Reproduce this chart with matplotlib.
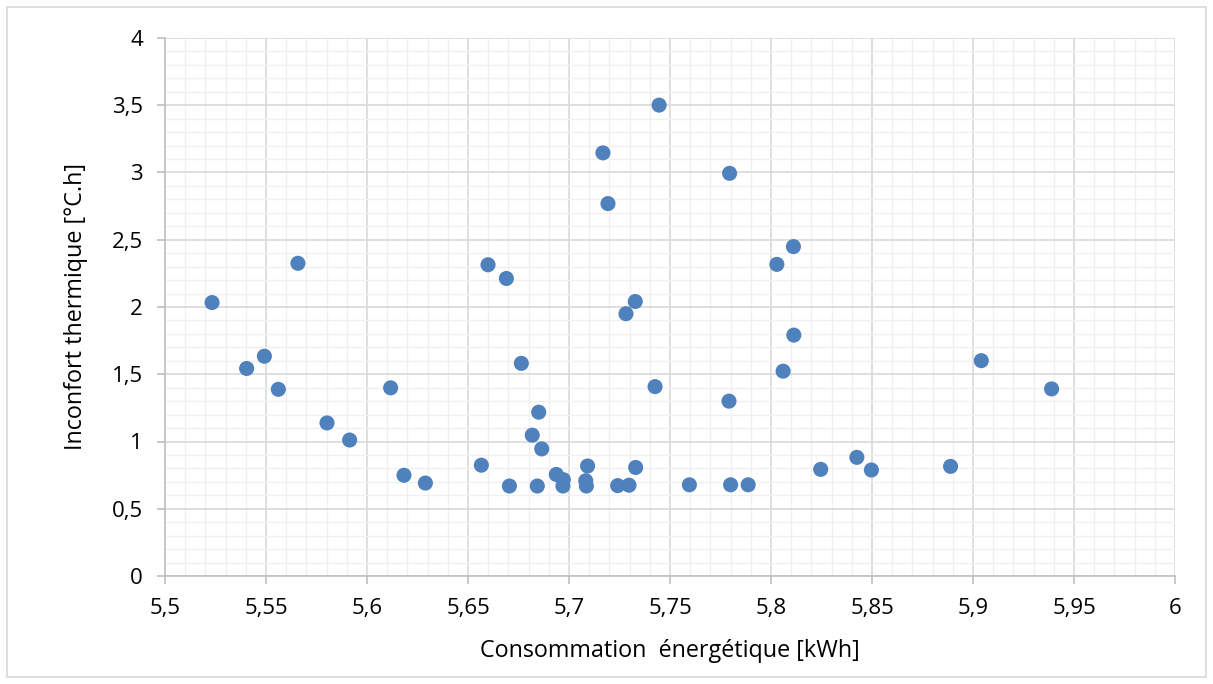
import matplotlib
matplotlib.use("Agg")
import matplotlib.pyplot as plt
from matplotlib.ticker import MultipleLocator, FuncFormatter
from matplotlib.patches import Rectangle

# Data
consommation = [
    5.5233, 5.5404, 5.5492, 5.5561, 5.5658, 5.5802, 5.5914, 5.6117, 5.6183, 5.6289,
    5.6566, 5.6599, 5.6690, 5.6705, 5.6764, 5.6850, 5.6818, 5.6865, 5.6843, 5.6937,
    5.6972, 5.6970, 5.7092, 5.7083, 5.7086, 5.7168, 5.7193, 5.7241, 5.7282, 5.7328,
    5.7297, 5.7330, 5.7426, 5.7446,
    5.7795, 5.8029, 5.8111, 5.8113, 5.8060, 5.7792, 5.7596, 5.7800, 5.7887, 5.8246,
    5.8425, 5.8497, 5.8889, 5.9041, 5.9389,
]
inconfort = [
    2.033, 1.543, 1.634, 1.388, 2.325, 1.138, 1.011, 1.399, 0.749, 0.691,
    0.824, 2.314, 2.212, 0.669, 1.581, 1.218, 1.047, 0.945, 0.669, 0.755,
    0.716, 0.669, 0.818, 0.708, 0.669, 3.146, 2.769, 0.672, 1.950, 2.041,
    0.675, 0.807, 1.408, 3.501,
    2.994, 2.317, 2.449, 1.791, 1.523, 1.300, 0.678, 0.678, 0.678, 0.793,
    0.882, 0.788, 0.815, 1.601, 1.391,
]

x_label = "Consommation  énergétique [kWh]"
y_label = "Inconfort thermique [°C.h]"

plt.rcParams['font.family'] = ['Open Sans', 'DejaVu Sans']

fig = plt.figure(figsize=(12.13, 6.84), dpi=100)
ax = fig.add_axes([165/1213, 1 - 576/684, (1175 - 165)/1213, (576 - 38)/684])

ax.scatter(consommation, inconfort, s=118, color='#4F81BD', edgecolors='none', zorder=3)

ax.set_xlim(5.5, 6.0)
ax.set_ylim(0, 4)
ax.xaxis.set_major_locator(MultipleLocator(0.05))
ax.xaxis.set_minor_locator(MultipleLocator(0.01))
ax.yaxis.set_major_locator(MultipleLocator(0.5))
ax.yaxis.set_minor_locator(MultipleLocator(0.1))

def fmt(v, pos):
    s = f"{v:.2f}".rstrip('0').rstrip('.')
    return s.replace('.', ',')

ax.xaxis.set_major_formatter(FuncFormatter(fmt))
ax.yaxis.set_major_formatter(FuncFormatter(fmt))

ax.grid(which='major', color='#D9D9D9', linewidth=1.2, zorder=1)
ax.grid(which='minor', color='#F0F0F0', linewidth=1.0, zorder=0)
ax.set_axisbelow(True)

for side in ['top', 'right']:
    ax.spines[side].set_visible(False)
for side in ['left', 'bottom']:
    ax.spines[side].set_color('#BFBFBF')
    ax.spines[side].set_linewidth(1.2)

ax.tick_params(which='major', length=6, width=1.2, color='#BFBFBF',
               labelsize=16, labelcolor='#000000')
ax.tick_params(axis='y', which='major', pad=10)
ax.tick_params(axis='x', which='major', pad=10)
ax.tick_params(which='minor', length=0)

ax.set_xlabel(x_label, fontsize=16.8, labelpad=14)
ax.set_ylabel(y_label, fontsize=16.8, labelpad=17)

fig.patches.append(Rectangle((7/1213, 7/684), (1206 - 7)/1213, (677 - 7)/684,
                             transform=fig.transFigure, fill=False,
                             edgecolor='#D9D9D9', linewidth=1.2))

fig.savefig("out.png", dpi=100)
